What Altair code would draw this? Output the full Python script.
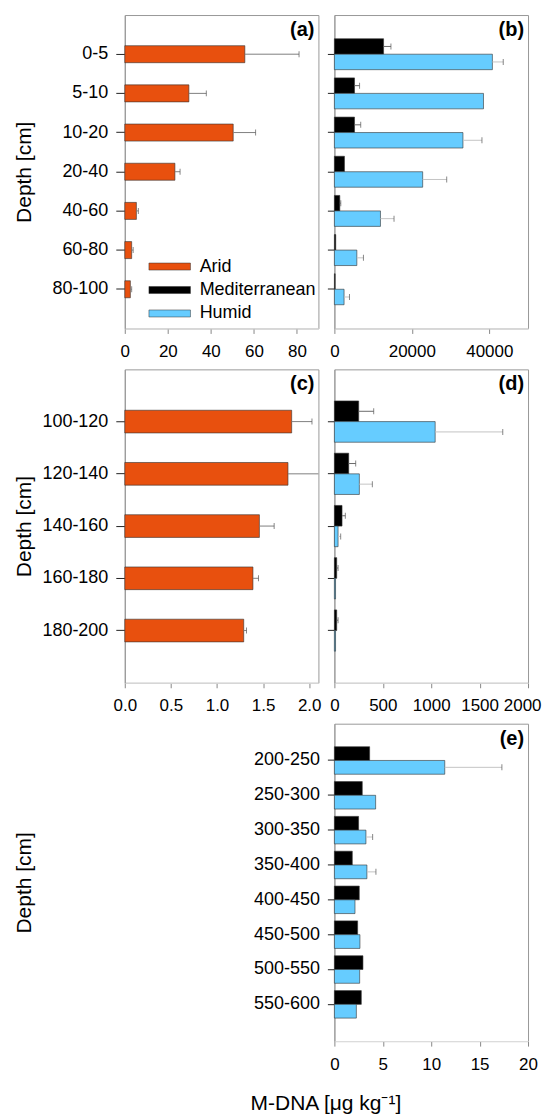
import altair as alt
import pandas as pd

FONT = "Liberation Sans"

# ---------------- data ----------------
climates = ["Arid", "Mediterranean", "Humid"]

depth_top = ["0-5", "5-10", "10-20", "20-40", "40-60", "60-80", "80-100"]
arid_top = [55.8, 29.8, 50.4, 23.3, 5.4, 3.2, 2.6]
arid_top_err = [25.2, 8.1, 10.4, 2.4, 0.9, 0.7, 0.6]
med_top = [12700, 5200, 5200, 2600, 1400, 350, 200]
med_top_err = [1900, 1300, 1600, 0, 250, 0, 0]
hum_top = [40800, 38500, 33200, 22800, 11900, 5800, 2500]
hum_top_err = [2800, 0, 4900, 6200, 3500, 1700, 1400]

depth_mid = ["100-120", "120-140", "140-160", "160-180", "180-200"]
arid_mid = [1.81, 1.77, 1.46, 1.39, 1.29]
arid_mid_err = [0.22, 0.60, 0.16, 0.06, 0.03]
med_mid = [251, 148, 79, 24, 24]
med_mid_err = [155, 72, 34, 14, 14]
hum_mid = [1041, 258, 38, 12, 12]
hum_mid_err = [698, 134, 27, 0, 0]

depth_deep = ["200-250", "250-300", "300-350", "350-400",
              "400-450", "450-500", "500-550", "550-600"]
med_deep = [3.64, 2.88, 2.50, 1.85, 2.57, 2.40, 2.95, 2.78]
med_deep_err = [0, 0, 0, 0, 0, 0, 0, 0]
hum_deep = [11.4, 4.26, 3.26, 3.36, 2.13, 2.64, 2.61, 2.27]
hum_deep_err = [5.9, 0, 0.69, 0.93, 0, 0, 0, 0]


def make_df(depths, series):
    rows = []
    for name, (vals, errs) in series.items():
        for d, v, e in zip(depths, vals, errs):
            rows.append(dict(depth=d, climate=name, value=v, err=e, hi=v + e))
    return pd.DataFrame(rows)


df_a = make_df(depth_top, {"Arid": (arid_top, arid_top_err)})
df_b = make_df(depth_top, {"Mediterranean": (med_top, med_top_err),
                           "Humid": (hum_top, hum_top_err)})
df_c = make_df(depth_mid, {"Arid": (arid_mid, arid_mid_err)})
df_d = make_df(depth_mid, {"Mediterranean": (med_mid, med_mid_err),
                           "Humid": (hum_mid, hum_mid_err)})
df_e = make_df(depth_deep, {"Mediterranean": (med_deep, med_deep_err),
                            "Humid": (hum_deep, hum_deep_err)})

# ---------------- styles ----------------
color_scale = alt.Scale(domain=climates, range=["#E8500E", "#000000", "#66CCFF"])
err_scale = alt.Scale(domain=climates, range=["#808080", "#6a6a6a", "#c4c4c4"])
W = 194


def panel(df, depths, xdom, xticks, xfmt, label, show_ylabels, tick_len,
          pad_outer, two, h, legend=None, ytitle=None, xtitle=None,
          last_right=None):
    yscale = alt.Scale(domain=depths, paddingInner=0.21, paddingOuter=pad_outer)
    xscale = alt.Scale(domain=xdom, nice=False, zero=True)
    yaxis = alt.Axis(labels=show_ylabels, labelFontSize=18, labelFont=FONT,
                     labelColor="black", labelPadding=8, tickColor="#222",
                     tickSize=tick_len, domainColor="#999",
                     title=ytitle, titleFont=FONT, titleFontSize=21,
                     titleFontWeight="normal", titleColor="black",
                     titleX=-90.5, titleY=h / 2)
    xkw = dict(values=xticks, format=xfmt, labelFontSize=17, labelFont=FONT,
               labelColor="black", labelPadding=10, tickColor="#888",
               tickSize=5, domainColor="#e3e3e3", grid=False,
               labelFlush=False, labelOverlap=False)
    if last_right is not None:
        test = f"datum.value == {last_right}"
        xkw["labelAlign"] = {"condition": {"test": test, "value": "right"},
                             "value": "center"}
        xkw["labelOffset"] = {"condition": {"test": test, "value": 13},
                              "value": 0}
    if xtitle:
        xaxis = alt.Axis(title=xtitle, titleFont=FONT, titleFontSize=21,
                         titleFontWeight="normal", titleColor="black",
                         titleX=-9, titleY=69, titleBaseline="alphabetic",
                         titleAlign="center", **xkw)
    else:
        xaxis = alt.Axis(title=None, **xkw)

    off = None
    if two:
        off = alt.YOffset("climate:N",
                          scale=alt.Scale(domain=["Mediterranean", "Humid"],
                                          paddingInner=0, paddingOuter=0))

    enc = dict(
        y=alt.Y("depth:N", scale=yscale, axis=yaxis, sort=depths),
        x=alt.X("value:Q", scale=xscale, axis=xaxis),
        color=alt.Color("climate:N", scale=color_scale, legend=legend),
    )
    if two:
        enc["yOffset"] = off
        bars = alt.Chart(df).mark_bar(stroke="#333", strokeWidth=0.6).encode(**enc)
    else:
        bars = alt.Chart(df).mark_bar(stroke="#333", strokeWidth=0.6,
                                      height=alt.RelativeBandSize(0.55)).encode(**enc)

    err_df = df[df["err"] > 0]
    renc = dict(
        y=alt.Y("depth:N", scale=yscale, sort=depths, axis=None),
        x=alt.X("value:Q", scale=xscale, axis=None),
        x2="hi:Q",
        stroke=alt.Stroke("climate:N", scale=err_scale, legend=None),
    )
    cenc = dict(
        y=alt.Y("depth:N", scale=yscale, sort=depths, axis=None),
        x=alt.X("hi:Q", scale=xscale, axis=None),
    )
    if two:
        renc["yOffset"] = off
        cenc["yOffset"] = off
    rules = alt.Chart(err_df).mark_rule(strokeWidth=1, clip=True).encode(**renc)
    caps = alt.Chart(err_df).mark_tick(color="#555", thickness=1, size=6,
                                       clip=True).encode(**cenc)

    return alt.layer(bars, rules, caps).resolve_axis(
        x="independent", y="independent"
    ).properties(
        width=W, height=h,
        view=alt.ViewBackground(stroke="#999", strokeWidth=1),
        title=alt.Title(label, anchor="end", frame="group", fontSize=20,
                        fontWeight="bold", font=FONT, offset=-25,
                        baseline="top", dx=-4, color="black"),
    )


legend_a = alt.Legend(orient="none", legendX=36, legendY=243, title=None,
                      symbolType="M-2.6,-0.44H2.6V0.44H-2.6Z", symbolSize=256,
                      symbolStrokeColor="#333", symbolStrokeWidth=0.5,
                      labelFontSize=18, labelFont=FONT, labelColor="black",
                      labelOffset=21, rowPadding=5.5, padding=0)

pa = panel(df_a, depth_top, [0, 90], [0, 20, 40, 60, 80], "d", "(a)", True, 9,
           0.605, False, 314, legend=legend_a, ytitle="Depth [cm]")
pb = panel(df_b, depth_top, [0, 50000], [0, 20000, 40000], "d", "(b)", False, 7,
           0.605, True, 314)
pc = panel(df_c, depth_mid, [0, 2.1], [0, 0.5, 1.0, 1.5, 2.0], ".1f", "(c)", True, 9,
           0.605, False, 314, ytitle="Depth [cm]")
pd_ = panel(df_d, depth_mid, [0, 2000], [0, 500, 1000, 1500, 2000], "d", "(d)", False, 7,
            0.605, True, 314, last_right=2000)
pe = panel(df_e, depth_deep, [0, 20], [0, 5, 10, 15, 20], "d", "(e)", True, 7,
           0.66, True, 318, xtitle="M-DNA [\u03bcg kg\u207b\u00b9]")

placeholder = alt.Chart(df_e).mark_point(opacity=0).encode(
    y=alt.Y("depth:N", sort=depth_deep,
            axis=alt.Axis(labels=False, ticks=False, domain=False,
                          title="Depth [cm]", titleFont=FONT, titleFontSize=21,
                          titleFontWeight="normal", titleColor="black",
                          titleX=-90.5, titleY=159)),
    x=alt.X("value:Q", axis=None),
).properties(width=W, height=318, view=alt.ViewBackground(stroke=None))

chart = alt.concat(
    pa, pb, pc, pd_, placeholder, pe,
    columns=2, spacing={"row": 41, "column": 16}, bounds="flush",
).resolve_scale(
    color="independent", yOffset="independent"
).resolve_legend(
    color="independent"
).configure_view(stroke=None).properties(
    padding={"left": 5, "top": 5, "right": 0, "bottom": 2}
)

chart.save("out.html", embed_options={"renderer": "svg", "actions": False})
